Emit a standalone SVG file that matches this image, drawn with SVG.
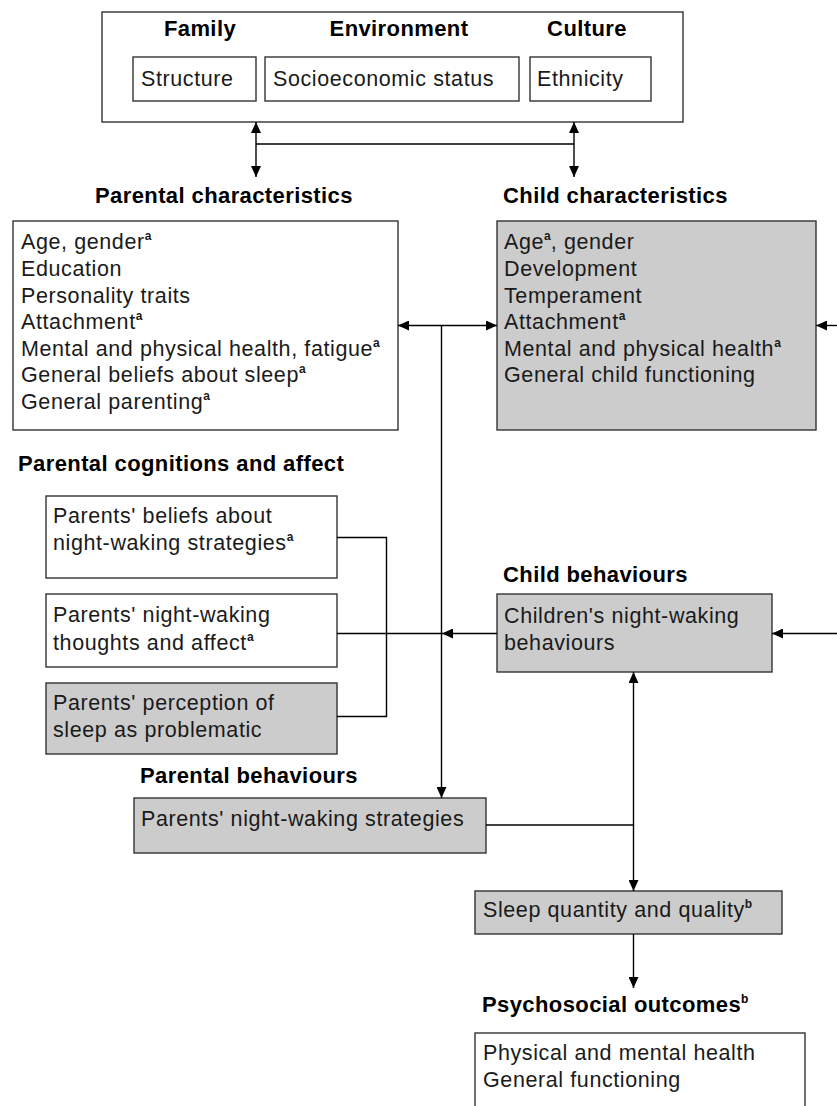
<svg xmlns="http://www.w3.org/2000/svg" width="837" height="1106" viewBox="0 0 837 1106">
  <style>
    .box { fill: #ffffff; stroke: #333333; stroke-width: 1.4; }
    .shade { fill: #cccccc; stroke: #333333; stroke-width: 1.4; }
    .t { font-family: "Liberation Sans", Arial, sans-serif; font-size: 21.5px; letter-spacing: 0.6px; fill: #1a1a1a; }
    .h { font-family: "Liberation Sans", Arial, sans-serif; font-size: 22px; font-weight: bold; letter-spacing: 0.4px; fill: #000000; }
    .sup { font-size: 12px; font-weight: bold; letter-spacing: 0; }
    .link { fill: none; stroke: #000000; stroke-width: 1.4; }
  </style>
  <defs>
    <marker id="arrow" viewBox="0 0 11 10" refX="11" refY="5" markerWidth="11" markerHeight="10" markerUnits="userSpaceOnUse" orient="auto-start-reverse">
      <path d="M0,0 L11,5 L0,10 z" fill="#000000"/>
    </marker>
  </defs>

  <rect width="837" height="1106" fill="#ffffff"/>

  <!-- Context: family, environment, culture -->
  <g id="context">
    <rect class="box" x="102" y="12" width="581" height="110"/>
    <text class="h" x="200" y="36" text-anchor="middle">Family</text>
    <text class="h" x="399" y="36" text-anchor="middle">Environment</text>
    <text class="h" x="587" y="36" text-anchor="middle">Culture</text>
  </g>
  <g id="structure">
    <rect class="box" x="133" y="57" width="123" height="44"/>
    <text class="t" x="141" y="86">Structure</text>
  </g>
  <g id="ses">
    <rect class="box" x="265" y="57" width="254" height="44"/>
    <text class="t" x="273" y="86">Socioeconomic status</text>
  </g>
  <g id="ethnicity">
    <rect class="box" x="530" y="57" width="121" height="44"/>
    <text class="t" x="537" y="86">Ethnicity</text>
  </g>

  <!-- Parental characteristics -->
  <g id="parental-characteristics">
    <text class="h" x="95" y="203">Parental characteristics</text>
    <rect class="box" x="13" y="221" width="385" height="209"/>
    <text class="t" x="21" y="249">Age, gender<tspan class="sup" dy="-9">a</tspan></text>
    <text class="t" x="21" y="276">Education</text>
    <text class="t" x="21" y="303">Personality traits</text>
    <text class="t" x="21" y="329">Attachment<tspan class="sup" dy="-9">a</tspan></text>
    <text class="t" x="21" y="356">Mental and physical health, fatigue<tspan class="sup" dy="-9">a</tspan></text>
    <text class="t" x="21" y="382">General beliefs about sleep<tspan class="sup" dy="-9">a</tspan></text>
    <text class="t" x="21" y="409">General parenting<tspan class="sup" dy="-9">a</tspan></text>
  </g>

  <!-- Child characteristics -->
  <g id="child-characteristics">
    <text class="h" x="503" y="203">Child characteristics</text>
    <rect class="shade" x="497" y="221" width="319" height="209"/>
    <text class="t" x="504" y="249">Age<tspan class="sup" dy="-9">a</tspan><tspan dy="9">, gender</tspan></text>
    <text class="t" x="504" y="276">Development</text>
    <text class="t" x="504" y="303">Temperament</text>
    <text class="t" x="504" y="329">Attachment<tspan class="sup" dy="-9">a</tspan></text>
    <text class="t" x="504" y="356">Mental and physical health<tspan class="sup" dy="-9">a</tspan></text>
    <text class="t" x="504" y="382">General child functioning</text>
  </g>

  <!-- Parental cognitions and affect -->
  <g id="parental-cognitions">
    <text class="h" x="18" y="471">Parental cognitions and affect</text>
  </g>
  <g id="beliefs">
    <rect class="box" x="46" y="496" width="291" height="82"/>
    <text class="t" x="53" y="523">Parents' beliefs about</text>
    <text class="t" x="53" y="550">night-waking strategies<tspan class="sup" dy="-9">a</tspan></text>
  </g>
  <g id="thoughts">
    <rect class="box" x="46" y="594" width="291" height="73"/>
    <text class="t" x="53" y="622">Parents' night-waking</text>
    <text class="t" x="53" y="650">thoughts and affect<tspan class="sup" dy="-9">a</tspan></text>
  </g>
  <g id="perception">
    <rect class="shade" x="46" y="683" width="291" height="71"/>
    <text class="t" x="53" y="710">Parents' perception of</text>
    <text class="t" x="53" y="737">sleep as problematic</text>
  </g>

  <!-- Child behaviours -->
  <g id="child-behaviours">
    <text class="h" x="503" y="582">Child behaviours</text>
    <rect class="shade" x="497" y="594" width="275" height="78"/>
    <text class="t" x="504" y="623">Children's night-waking</text>
    <text class="t" x="504" y="650">behaviours</text>
  </g>

  <!-- Parental behaviours -->
  <g id="parental-behaviours">
    <text class="h" x="140" y="783">Parental behaviours</text>
    <rect class="shade" x="134" y="798" width="352" height="55"/>
    <text class="t" x="141" y="826">Parents' night-waking strategies</text>
  </g>

  <!-- Sleep -->
  <g id="sleep">
    <rect class="shade" x="475" y="891" width="307" height="43"/>
    <text class="t" x="483" y="917">Sleep quantity and quality<tspan class="sup" dy="-9">b</tspan></text>
  </g>

  <!-- Psychosocial outcomes -->
  <g id="psychosocial-outcomes">
    <text class="h" x="482" y="1012">Psychosocial outcomes<tspan class="sup" dy="-9">b</tspan></text>
    <rect class="box" x="475" y="1033" width="330" height="90"/>
    <text class="t" x="483" y="1060">Physical and mental health</text>
    <text class="t" x="483" y="1087">General functioning</text>
  </g>

  <!-- Connectors -->
  <g id="connectors">
    <line class="link" x1="256" y1="122" x2="256" y2="177" marker-start="url(#arrow)" marker-end="url(#arrow)"/>
    <line class="link" x1="574" y1="122" x2="574" y2="177" marker-start="url(#arrow)" marker-end="url(#arrow)"/>
    <line class="link" x1="256" y1="144" x2="574" y2="144"/>

    <line class="link" x1="398" y1="325.5" x2="497" y2="325.5" marker-start="url(#arrow)" marker-end="url(#arrow)"/>
    <line class="link" x1="441.5" y1="325.5" x2="441.5" y2="798" marker-end="url(#arrow)"/>

    <line class="link" x1="837" y1="325.5" x2="816" y2="325.5" marker-end="url(#arrow)"/>
    <line class="link" x1="837" y1="633.5" x2="772" y2="633.5" marker-end="url(#arrow)"/>

    <line class="link" x1="497" y1="633.5" x2="442" y2="633.5" marker-end="url(#arrow)"/>
    <line class="link" x1="442" y1="633.5" x2="337" y2="633.5"/>
    <polyline class="link" points="337,537.5 386.5,537.5 386.5,716.5 337,716.5"/>

    <line class="link" x1="633.5" y1="672" x2="633.5" y2="891" marker-start="url(#arrow)" marker-end="url(#arrow)"/>
    <line class="link" x1="486" y1="825" x2="633.5" y2="825"/>
    <line class="link" x1="633.5" y1="934" x2="633.5" y2="988" marker-end="url(#arrow)"/>
  </g>
</svg>
